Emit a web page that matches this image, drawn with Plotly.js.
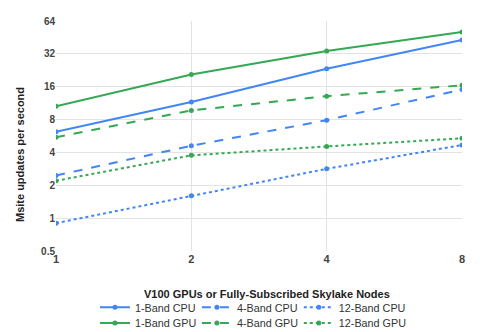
<!DOCTYPE html>
<html><head><meta charset="utf-8">
<script src="https://cdn.plot.ly/plotly-3.0.1.min.js"></script>
<style>body{margin:0;background:#fff}#c{width:480px;height:332px}</style>
</head><body><div id="c"></div>
<script>
const nodes = [1, 2, 4, 8];
const cpu1 = [6.2, 11.6, 23.4, 42.8];
const cpu4 = [2.46, 4.6, 7.9, 15.1];
const cpu12 = [0.9, 1.6, 2.83, 4.68];
const gpu1 = [10.6, 20.7, 34, 50.8];
const gpu4 = [5.5, 9.7, 13.1, 16.5];
const gpu12 = [2.2, 3.76, 4.54, 5.39];
const yTicks = [0.5, 1, 2, 4, 8, 16, 32, 64];
const xTicks = [1, 2, 4, 8];
const xTitle = 'V100 GPUs or Fully-Subscribed Skylake Nodes';
const yTitle = 'Msite updates per second';

const blue = '#4285F4', green = '#34A853';
function tr(name, y, color, dash, leg) {
  return {x: nodes, y: y, name: name, type: 'scatter', mode: 'lines+markers', legend: leg,
    line: {color: color, width: 2, dash: dash}, marker: {color: color, size: 5}};
}
const data = [
  tr('1-Band CPU', cpu1, blue, 'solid', 'legend'),
  tr('4-Band CPU', cpu4, blue, 'dash', 'legend2'),
  tr('12-Band CPU', cpu12, blue, 'dot', 'legend3'),
  tr('1-Band GPU', gpu1, green, 'solid', 'legend4'),
  tr('4-Band GPU', gpu4, green, 'dash', 'legend5'),
  tr('12-Band GPU', gpu12, green, 'dot', 'legend6')
];
function leg(x, y) {
  return {orientation: 'v', x: x, xanchor: 'left', y: y, yanchor: 'middle',
    font: {size: 10.8, color: '#333'}, bgcolor: 'rgba(0,0,0,0)', borderwidth: 0};
}
const colX = [0.096, 0.347, 0.598];
const rowY = [-0.245, -0.313];
const layout = {
  width: 480, height: 332,
  margin: {l: 56, r: 18, t: 21, b: 81, autoexpand: false},
  paper_bgcolor: '#fff', plot_bgcolor: '#fff',
  font: {family: 'Liberation Sans, Arial, sans-serif', color: '#222'},
  showlegend: true,
  xaxis: {type: 'log', range: [0, Math.log10(8)], tickvals: xTicks, ticktext: xTicks.map(String),
    gridcolor: '#e3e3e3', zeroline: false, showline: false, automargin: false,
    tickfont: {size: 11, color: '#444', weight: 'bold'}, ticks: ''},
  yaxis: {type: 'log', range: [Math.log10(0.5), Math.log10(64)], tickvals: yTicks, ticktext: yTicks.map(String),
    gridcolor: '#e3e3e3', zeroline: false, showline: false, ticks: '', automargin: false,
    tickfont: {size: 10, color: '#444', weight: 'bold'}},
  annotations: [
    {text: '<b>' + xTitle + '</b>', xref: 'paper', yref: 'paper', x: 0.520, y: -0.185,
      xanchor: 'center', yanchor: 'middle', showarrow: false, font: {size: 11, color: '#222'}},
    {text: '<b>' + yTitle + '</b>', xref: 'paper', yref: 'paper', x: -0.089, y: 0.421, textangle: -90,
      xanchor: 'center', yanchor: 'middle', showarrow: false, font: {size: 11, color: '#222'}}
  ],
  legend: leg(colX[0], rowY[0]),
  legend2: leg(colX[1], rowY[0]),
  legend3: leg(colX[2], rowY[0]),
  legend4: leg(colX[0], rowY[1]),
  legend5: leg(colX[1], rowY[1]),
  legend6: leg(colX[2], rowY[1])
};
Plotly.newPlot('c', data, layout, {displayModeBar: false, staticPlot: true});
</script></body></html>
